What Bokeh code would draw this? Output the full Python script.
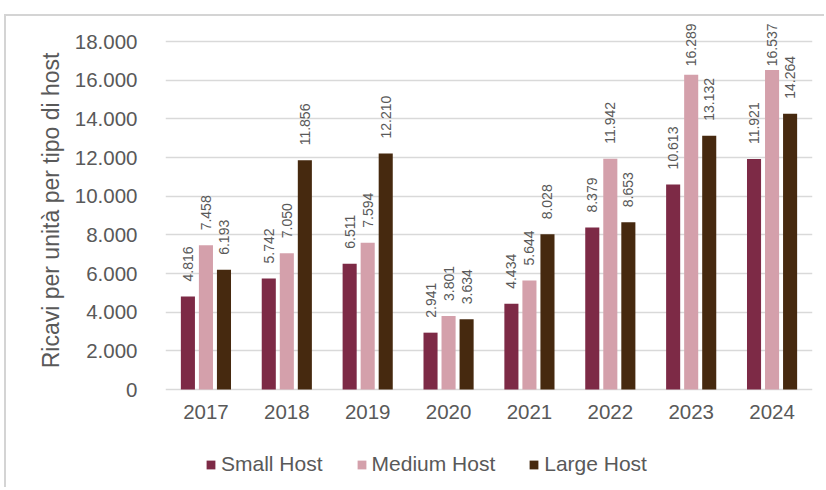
import numpy as np
from bokeh.plotting import figure
from bokeh.models import ColumnDataSource, FactorRange, Range1d, FixedTicker, Legend, LegendItem, Title
from bokeh.transform import dodge
from bokeh.core.properties import value
from bokeh.embed import file_html
from bokeh.resources import INLINE

years = ["2017", "2018", "2019", "2020", "2021", "2022", "2023", "2024"]
small_host = [4816, 5742, 6511, 2941, 4434, 8379, 10613, 11921]
medium_host = [7458, 7050, 7594, 3801, 5644, 11942, 16289, 16537]
large_host = [6193, 11856, 12210, 3634, 8028, 8653, 13132, 14264]
series_names = ["Small Host", "Medium Host", "Large Host"]
y_ticks = [0, 2000, 4000, 6000, 8000, 10000, 12000, 14000, 16000, 18000]
y_title = "Ricavi per unità per tipo di host"

colors = ["#7d2a46", "#d4a0ab", "#46290f"]
FONT = "Liberation Sans"
GRAY = "#595959"

def fmt(v):
    return f"{v:,}".replace(",", ".")

label_cap = 15950

data = dict(year=years, zero=[0] * len(years))
for key, vals in zip(["small", "medium", "large"], [small_host, medium_host, large_host]):
    data[key] = vals
    data[key + "_lab"] = [fmt(v) for v in vals]
    data[key + "_ly"] = list(np.minimum(vals, label_cap))
src = ColumnDataSource(data)

p = figure(width=820, height=473, x_range=FactorRange(*years), y_range=Range1d(-5174, 19300),
           output_backend="svg", toolbar_location=None, x_axis_location=None,
           min_border_left=159, min_border_right=14, min_border_top=0, min_border_bottom=0)
p.styles = {"margin-left": "4px", "margin-top": "14px",
            "border-left": "2px solid #d4d4d4", "border-top": "2px solid #d4d4d4"}
p.outline_line_color = None
p.xgrid.grid_line_color = None
p.ygrid.grid_line_color = "#d9d9d9"
p.ygrid.grid_line_width = 1.5
p.ygrid.ticker = FixedTicker(ticks=y_ticks)

p.yaxis.ticker = FixedTicker(ticks=y_ticks)
p.yaxis.major_label_overrides = {t: fmt(t) for t in y_ticks}
p.yaxis.axis_line_color = None
p.yaxis.major_tick_line_color = None
p.yaxis.minor_tick_line_color = None
p.yaxis.major_label_text_font = FONT
p.yaxis.major_label_text_font_size = "20.5px"
p.yaxis.major_label_text_color = GRAY
p.yaxis.major_label_standoff = 22

p.add_layout(Title(text=y_title, align="right", offset=36, standoff=16,
                   text_font=FONT, text_font_size="23px", text_font_style="normal",
                   text_color=GRAY), "left")

# category labels under the baseline
p.text(x="year", y="zero", text="year", source=src, text_align="center", text_baseline="middle",
       y_offset=22, text_font=value(FONT), text_font_size="20.5px", text_color=GRAY)

offsets = [-0.223, 0.0, 0.223]
renderers = []
for key, off, col in zip(["small", "medium", "large"], offsets, colors):
    r = p.vbar(x=dodge("year", off, range=p.x_range), top=key, width=0.174, source=src,
               fill_color=col, line_color=None)
    renderers.append(r)
    p.text(x=dodge("year", off, range=p.x_range), y=key + "_ly", text=key + "_lab", source=src,
           angle=np.pi / 2, text_align="left", text_baseline="middle", y_offset=-15,
           text_font=value(FONT), text_font_size="14px", text_color=GRAY)

legend = Legend(items=[LegendItem(label=n, renderers=[r]) for n, r in zip(series_names, renderers)],
                orientation="horizontal", location=(40, 13),
                glyph_width=11, glyph_height=11, label_standoff=5, spacing=33,
                label_text_font=FONT, label_text_font_size="21px", label_text_color=GRAY,
                border_line_color=None, background_fill_alpha=0, padding=0, margin=0)
p.add_layout(legend)

open("out.html", "w").write(file_html(p, INLINE))
